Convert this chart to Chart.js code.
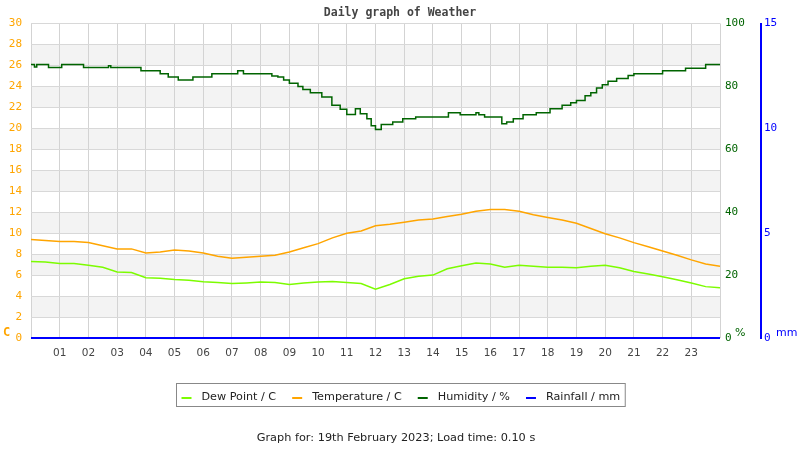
<!DOCTYPE html>
<html>
<head>
<meta charset="utf-8">
<script src="https://cdn.jsdelivr.net/npm/chart.js@4/dist/chart.umd.min.js"></script>
<style>
html, body { margin: 0; padding: 0; background: #fff; }
</style>
</head>
<body>
<canvas id="weather" width="800" height="450"></canvas>
<script>
// horas del día (0-24) para temperatura y punto de rocío
const halfHours = [0, 0.5, 1, 1.5, 2, 2.5, 3, 3.5, 4, 4.5, 5, 5.5, 6, 6.5, 7, 7.5, 8, 8.5, 9, 9.5,
    10, 10.5, 11, 11.5, 12, 12.5, 13, 13.5, 14, 14.5, 15, 15.5, 16, 16.5, 17, 17.5, 18, 18.5, 19, 19.5,
    20, 20.5, 21, 21.5, 22, 22.5, 23, 23.5, 24];
const temperature = [9.4, 9.3, 9.2, 9.2, 9.1, 8.8, 8.5, 8.5, 8.1, 8.2, 8.4, 8.3, 8.1, 7.8, 7.6, 7.7, 7.8, 7.9, 8.2, 8.6,
    9.0, 9.55, 10.0, 10.2, 10.7, 10.85, 11.05, 11.25, 11.35, 11.6, 11.8, 12.1, 12.25, 12.25, 12.1, 11.75, 11.5, 11.25, 10.95, 10.45,
    9.95, 9.55, 9.1, 8.7, 8.3, 7.9, 7.45, 7.05, 6.85];
const dewPoint = [7.3, 7.25, 7.1, 7.1, 6.95, 6.75, 6.3, 6.25, 5.75, 5.7, 5.58, 5.5, 5.36, 5.3, 5.2, 5.25, 5.33, 5.3, 5.1, 5.25,
    5.35, 5.4, 5.3, 5.2, 4.65, 5.1, 5.65, 5.9, 6.0, 6.6, 6.9, 7.15, 7.05, 6.75, 6.95, 6.85, 6.75, 6.75, 6.7, 6.85,
    6.95, 6.7, 6.35, 6.1, 5.85, 5.55, 5.25, 4.9, 4.8];

// humedad: horas en que cambia el valor (línea escalonada)
const humidityHours = [0, 0.12, 0.2, 0.61, 1.07, 1.83, 2.7, 2.78, 3.83, 4.5, 4.78, 5.13, 5.64, 6.3, 7.2, 7.4, 8.39, 8.6, 8.8, 9.0,
    9.3, 9.47, 9.73, 10.13, 10.48, 10.77, 11.0, 11.3, 11.47, 11.7, 11.85, 12.0, 12.2, 12.6, 12.95, 13.4, 14.54, 14.95, 15.5, 15.6,
    15.8, 16.4, 16.57, 16.8, 17.14, 17.6, 18.08, 18.5, 18.8, 19.0, 19.3, 19.5, 19.7, 19.9, 20.1, 20.4, 20.8, 21.0, 22.0, 22.8,
    23.5, 24];
const humidity = [87, 86.2, 87, 86, 87, 86, 86.6, 86, 85, 84, 83, 82, 83, 84, 85, 84, 83.3, 83, 82, 81,
    80, 79, 78, 76.6, 74, 72.7, 71.1, 72.9, 71.3, 69.7, 67.5, 66.3, 67.9, 68.7, 69.7, 70.3, 71.6, 71, 71.6, 71,
    70.3, 68.1, 68.7, 69.7, 71, 71.6, 72.9, 74, 74.8, 75.5, 77, 78, 79.5, 80.5, 81.6, 82.5, 83.5, 84, 85, 85.8,
    87, 87];

const rainHours = [0, 24];
const rainfall = [0, 0];

const labels = ['Dew Point / C', 'Temperature / C', 'Humidity / %', 'Rainfall / mm'];
const colors = ['#7cfc00', '#ffa500', '#006400', '#0000ff'];

const tempTicks = { min: 0, max: 30, step: 2 };
const humTicks = { min: 0, max: 100, step: 20 };
const rainTicks = { min: 0, max: 15, step: 5 };

const toPoints = (xs, ys) => xs.map((x, i) => ({ x, y: ys[i] }));

// bandas grises alternas del fondo
const bandsPlugin = {
    id: 'bands',
    beforeDraw(chart) {
        const { ctx, chartArea: a, scales } = chart;
        const y = scales.temp;
        ctx.save();
        ctx.fillStyle = '#f3f3f3';
        for (let v = 2; v < 30; v += 4) {
            const top = y.getPixelForValue(v + 2);
            const bot = y.getPixelForValue(v);
            ctx.fillRect(a.left, top, a.right - a.left, bot - top);
        }
        ctx.restore();
    }
};

// título, unidades, leyenda con marco y pie
const decorPlugin = {
    id: 'decor',
    afterDraw(chart) {
        const { ctx } = chart;
        ctx.save();
        ctx.textBaseline = 'middle';

        ctx.fillStyle = '#444';
        ctx.textAlign = 'center';
        ctx.font = 'bold 11.5px "DejaVu Sans Mono"';
        ctx.fillText('Daily graph of Weather', 400, 13);

        ctx.textAlign = 'left';
        ctx.fillStyle = '#ffa500';
        ctx.font = 'bold 12px "DejaVu Sans Mono"';
        ctx.fillText('C', 3, 333);
        ctx.font = '11px "DejaVu Sans"';
        ctx.fillStyle = '#006400';
        ctx.fillText('%', 735, 333);
        ctx.fillStyle = '#0000ff';
        ctx.fillText('mm', 776, 333);

        // leyenda
        ctx.font = '11.2px "DejaVu Sans"';
        const gap = 16;
        let total = 5;
        for (const ds of chart.data.datasets) {
            total += 20 + ctx.measureText(ds.label).width + gap;
        }
        total = total - gap + 5;
        const left = Math.round(400 - total / 2) + 0.5;
        const top = 383.5, h = 23;
        ctx.strokeStyle = '#888';
        ctx.lineWidth = 1;
        ctx.strokeRect(left, top, total, h);
        let x = left + 5;
        const cy = top + h / 2 + 2;
        for (const ds of chart.data.datasets) {
            ctx.strokeStyle = ds.borderColor;
            ctx.lineWidth = 2;
            ctx.beginPath();
            ctx.moveTo(x, cy + 1);
            ctx.lineTo(x + 10, cy + 1);
            ctx.stroke();
            ctx.fillStyle = '#222';
            ctx.fillText(ds.label, x + 20, cy);
            x += 20 + ctx.measureText(ds.label).width + gap;
        }

        ctx.textAlign = 'center';
        ctx.fillStyle = '#222';
        ctx.font = '11.3px "DejaVu Sans"';
        ctx.fillText('Graph for: 19th February 2023; Load time: 0.10 s', 396, 438);
        ctx.restore();
    }
};

const lineDataset = (label, color, data, axis, extra) => Object.assign({
    label,
    data,
    yAxisID: axis,
    borderColor: color,
    backgroundColor: color,
    borderWidth: 1.5,
    pointRadius: 0,
    fill: false,
    tension: 0
}, extra || {});

new Chart(document.getElementById('weather'), {
    type: 'line',
    data: {
        datasets: [
            lineDataset(labels[0], colors[0], toPoints(halfHours, dewPoint), 'temp'),
            lineDataset(labels[1], colors[1], toPoints(halfHours, temperature), 'temp'),
            lineDataset(labels[2], colors[2], toPoints(humidityHours, humidity), 'hum', { stepped: true }),
            lineDataset(labels[3], colors[3], toPoints(rainHours, rainfall), 'rain', { borderWidth: 2, clip: false })
        ]
    },
    options: {
        responsive: false,
        animation: false,
        layout: { padding: { top: 23.5, left: 0, right: 0, bottom: 0 } },
        plugins: {
            legend: { display: false },
            title: { display: false },
            tooltip: { enabled: false }
        },
        scales: {
            x: {
                type: 'linear',
                min: 0,
                max: 24,
                afterFit: (s) => { s.height = 112; },
                grid: { color: '#d3d3d3', lineWidth: 1, drawTicks: false },
                border: { display: false },
                ticks: {
                    stepSize: 1,
                    padding: 9,
                    autoSkip: false,
                    maxRotation: 0,
                    color: '#444',
                    font: { family: 'DejaVu Sans', size: 10.5 },
                    callback: (v) => (v > 0 && v < 24) ? String(v).padStart(2, '0') : ''
                }
            },
            temp: {
                position: 'left',
                min: tempTicks.min,
                max: tempTicks.max,
                afterFit: (s) => { s.width = 31; },
                grid: { color: '#d8d8d8', lineWidth: 1, drawTicks: false },
                border: { display: false },
                ticks: {
                    stepSize: tempTicks.step,
                    padding: 9,
                    color: '#ffa500',
                    font: { family: 'DejaVu Sans Mono', size: 11 }
                }
            },
            hum: {
                position: 'right',
                min: humTicks.min,
                max: humTicks.max,
                afterFit: (s) => { s.width = 41; },
                grid: { display: false, drawTicks: false },
                border: { display: false },
                ticks: {
                    stepSize: humTicks.step,
                    padding: 5,
                    color: '#006400',
                    font: { family: 'DejaVu Sans Mono', size: 11 }
                }
            },
            rain: {
                position: 'right',
                min: rainTicks.min,
                max: rainTicks.max,
                afterFit: (s) => { s.width = 39; },
                grid: { display: false, drawTicks: false },
                border: { display: true, color: '#0000ff', width: 2 },
                ticks: {
                    stepSize: rainTicks.step,
                    padding: 3,
                    color: '#0000ff',
                    font: { family: 'DejaVu Sans Mono', size: 11 }
                }
            }
        }
    },
    plugins: [bandsPlugin, decorPlugin]
});
</script>
</body>
</html>
